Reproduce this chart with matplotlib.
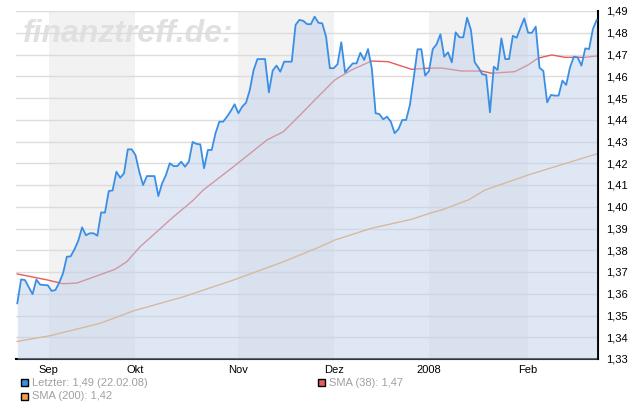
import matplotlib.pyplot as plt
from matplotlib.patches import Rectangle
from matplotlib.ticker import FuncFormatter
import numpy as np

# Schlusskurse (ein Wert je Handelstag, 22.08.07 - 22.02.08)
kurs = [
    1.3556, 1.3666, 1.3663, 1.3630, 1.3598, 1.3665, 1.3642, 1.3640, 1.3639, 1.3613,
    1.3617, 1.3651, 1.3694, 1.3770, 1.3772, 1.3804, 1.3844, 1.3905, 1.3869, 1.3878,
    1.3878, 1.3867, 1.3974, 1.3973, 1.4072, 1.4075, 1.4161, 1.4133, 1.4154, 1.4264,
    1.4264, 1.4238, 1.4161, 1.4100, 1.4141, 1.4141, 1.4141, 1.4049, 1.4108, 1.4146,
    1.4200, 1.4187, 1.4187, 1.4207, 1.4184, 1.4207, 1.4298, 1.4289, 1.4287, 1.4177,
    1.4261, 1.4261, 1.4338, 1.4391, 1.4391, 1.4414, 1.4440, 1.4471, 1.4430, 1.4460,
    1.4478, 1.4537, 1.4629, 1.4679, 1.4679, 1.4679, 1.4526, 1.4626, 1.4649, 1.4621,
    1.4667, 1.4667, 1.4667, 1.4836, 1.4859, 1.4855, 1.4840, 1.4839, 1.4874, 1.4846,
    1.4843, 1.4782, 1.4637, 1.4637, 1.4655, 1.4756, 1.4618, 1.4639, 1.4659, 1.4659,
    1.4708, 1.4675, 1.4725, 1.4637, 1.4430, 1.4426, 1.4402, 1.4414, 1.4391, 1.4338,
    1.4357, 1.4399, 1.4399, 1.4468, 1.4593, 1.4724, 1.4724, 1.4603, 1.4624, 1.4725,
    1.4747, 1.4793, 1.4690, 1.4710, 1.4664, 1.4802, 1.4779, 1.4779, 1.4869, 1.4813,
    1.4664, 1.4639, 1.4609, 1.4606, 1.4434, 1.4644, 1.4629, 1.4774, 1.4679, 1.4679,
    1.4786, 1.4777, 1.4823, 1.4866, 1.4800, 1.4800, 1.4828, 1.4639, 1.4624, 1.4480,
    1.4514, 1.4511, 1.4511, 1.4580, 1.4560, 1.4641, 1.4690, 1.4687, 1.4649, 1.4728,
    1.4725, 1.4817, 1.4859,
]

sma38_tag = [0, 8, 12, 15.6, 25.6, 28.7, 32.2, 36.6, 40, 46.2, 48.8, 56.7, 65.5, 69.8,
             74.2, 78.9, 83.3, 87.7, 92.9, 97.3, 99.9, 103.4, 107.8, 111.3, 116.5,
             121.8, 124.4, 130.5, 134, 136.6, 140.2, 143.7, 148.9, 152]
sma38 = [1.3691, 1.3663, 1.3646, 1.3649, 1.3712, 1.3747, 1.3816, 1.3885, 1.3939, 1.4031,
         1.4077, 1.4184, 1.4307, 1.4345, 1.4422, 1.4506, 1.4583, 1.4629, 1.4670, 1.4667,
         1.4652, 1.4632, 1.4637, 1.4638, 1.4624, 1.4624, 1.4614, 1.4621, 1.4652, 1.4683,
         1.4698, 1.4687, 1.4687, 1.4693]

sma200_tag = [0, 8.6, 21.7, 30.4, 43.6, 56.7, 69.8, 79.4, 83.3, 92.9, 103.4, 108.7,
              111.3, 118.3, 122.7, 134, 152]
sma200 = [1.3381, 1.3407, 1.3464, 1.3521, 1.3586, 1.3663, 1.3747, 1.3816, 1.3847, 1.3901,
          1.3942, 1.3973, 1.3985, 1.4031, 1.4077, 1.4146, 1.4243]

monate = ['Sep', 'Okt', 'Nov', 'Dez', '2008', 'Feb']
monat_tag = [8.2, 31, 58, 83, 108, 134]
y_ticks = [1.33, 1.34, 1.35, 1.36, 1.37, 1.38, 1.39, 1.40, 1.41, 1.42, 1.43, 1.44,
           1.45, 1.46, 1.47, 1.48, 1.49]

legende = ['Letzter: 1,49 (22.02.08)', 'SMA (38): 1,47', 'SMA (200): 1,42']

plt.rcParams['font.family'] = ['Liberation Sans', 'DejaVu Sans']

fig = plt.figure(figsize=(6.38, 4.17), dpi=100)
ax = fig.add_axes([16/638, 58/417, 582/638, 348/417])

x = np.arange(len(kurs))
ax.set_xlim(-0.34, len(kurs) - 1 + 0.34)
ax.set_ylim(1.33, 1.49)

# graue Monatsstreifen
for a, b in zip(monat_tag[0::2], monat_tag[1::2]):
    ax.axvspan(a, b, color='#f2f2f2', lw=0, zorder=0)

ax.set_yticks(y_ticks)
ax.yaxis.grid(True, color='#dcdcdc', lw=1)
ax.set_axisbelow(True)

ax.plot(sma200_tag, sma200, color='#f0a050', lw=1.0, zorder=2)
ax.plot(sma38_tag, sma38, color='#e45c5c', lw=1.0, zorder=2)
ax.fill_between(x, 1.33, kurs, color='#c1d1eb', alpha=0.5, lw=0, zorder=3)
ax.plot(x, kurs, color='#3a8ee4', lw=1.3, zorder=4)

# Wasserzeichen
ax.text(0.0125, 0.912, 'finanztreff.de:', transform=ax.transAxes, fontsize=23,
        fontweight='bold', fontstyle='italic', color='#e0e0e0', va='baseline', zorder=0.2)

for s in ['top', 'left']:
    ax.spines[s].set_visible(False)
for s in ['bottom', 'right']:
    ax.spines[s].set_color('black')
    ax.spines[s].set_linewidth(1.5)

ax.yaxis.tick_right()
ax.yaxis.set_major_formatter(FuncFormatter(lambda v, p: f'{v:.2f}'.replace('.', ',')))
ax.tick_params(axis='y', length=0, pad=6, labelsize=8)
ax.set_xticks(monat_tag)
ax.set_xticklabels(monate)
ax.tick_params(axis='x', length=0, pad=4, labelsize=8)

# Legende unter dem Chart
farben = ['#3a8ee4', '#e45c5c', '#f0a050']
orte = [(21, 382.5), (318, 382.5), (21, 396)]
for (px, py), farbe, txt in zip(orte, farben, legende):
    fig.patches.append(Rectangle((px/638, 1 - (py + 3.5)/417), 7/638, 7/417,
                                 transform=fig.transFigure, facecolor=farbe,
                                 edgecolor='black', lw=1))
    fig.text((px + 11)/638, 1 - py/417, txt, fontsize=8, color='#a0a0a0', va='center')

fig.savefig('out.png', dpi=100)
